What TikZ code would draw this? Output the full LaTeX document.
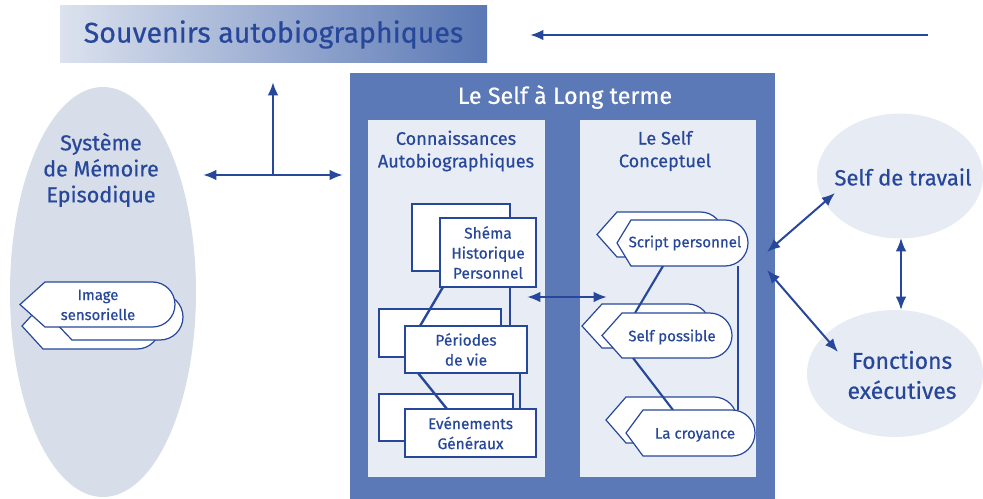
\documentclass[tikz,border=0pt]{standalone}
\usepackage{fontspec}
\setmainfont{Fira Sans}[FakeBold=0.5]
\usetikzlibrary{arrows.meta,shapes.geometric,calc}
\definecolor{tblue}{HTML}{27479A}
\definecolor{bigblue}{HTML}{5B79B6}
\definecolor{panel}{HTML}{E8ECF5}
\definecolor{ellL}{HTML}{D7DEEA}
\definecolor{ellR}{HTML}{E7EBF4}
\definecolor{gradL}{HTML}{DCE2EE}
\definecolor{gradR}{HTML}{5A78B5}
\tikzset{
  box/.style={draw=tblue, fill=white, line width=0.9pt, inner sep=0pt, outer sep=0pt, align=center, text=tblue, font=\fontsize{11.6}{15}\selectfont},
  tagline/.style={draw=tblue, fill=white, line width=0.9pt},
  link/.style={draw=tblue, line width=1.8pt},
  arr/.style={draw=tblue, line width=1.8pt, {Latex[length=10pt,width=8pt]}-{Latex[length=10pt,width=8pt]}},
  arrone/.style={draw=tblue, line width=1.8pt, -{Latex[length=10pt,width=8pt]}},
  lbl/.style={text=tblue, align=center, inner sep=0pt}
}
% #1 name, #2 x1, #3 y1, #4 x2, #5 y2, #6 text
\newcommand{\pxbox}[6]{\node[box, anchor=north west, minimum width={(#4-#2)*0.75pt}, minimum height={(#5-#3)*0.75pt}] (#1) at (#2,#3) {#6};}
% tag shape: #1 left x, #2 center y, #3 half height, #4 right x, #5 diagonal dx
\newcommand{\tagshape}[5]{\filldraw[tagline] (#1,#2) -- ({#1+#5},{#2-#3}) -- ({#4-#3},{#2-#3}) arc[start angle=90,end angle=-90,radius={#3*0.75pt}] -- ({#1+#5},{#2+#3}) -- cycle;}
\begin{document}
\begin{tikzpicture}[x=0.75pt,y=-0.75pt]
\useasboundingbox (0,0) rectangle (983,499);

% title
\node[left color=gradL, right color=gradR, minimum width={427*0.75pt}, minimum height={57*0.75pt}, inner sep=0pt, text=tblue, font=\fontsize{21.4}{26}\selectfont] (souv) at (273.5,34.5) {Souvenirs autobiographiques};
\coordinate (topR) at (928,35);
\coordinate (topL) at (530,35);
\draw[arrone] (topR) -- (topL);

% left ellipse
\node[ellipse, fill=ellL, minimum width={186*0.75pt}, minimum height={410*0.75pt}, inner sep=0pt] (episo) at (103,292) {};
\node[lbl, font=\fontsize{16.2}{19.5}\selectfont] (episotxt) at (101,170) {Système\\de Mémoire\\Episodique};

% image sensorielle
\tagshape{22}{326}{23}{160}{21}
\tagshape{50}{317}{23}{183}{22}
\tagshape{20}{304.5}{22.5}{175}{25}
\node[lbl, font=\fontsize{11.2}{15}\selectfont] (imgtxt) at (98,305) {Image\\sensorielle};

% big box
\fill[bigblue] (350,73) rectangle (775,499);
\node[text=white, font=\fontsize{17.5}{18}\selectfont] (ltitle) at (565,97) {Le Self à Long terme};
\fill[panel] (368,120) rectangle (545,477);
\fill[panel] (580,120) rectangle (756,477);
\node[lbl, font=\fontsize{13.6}{17}\selectfont] (conn) at (456,151) {Connaissances\\Autobiographiques};
\node[lbl, font=\fontsize{13.6}{17}\selectfont] (concept) at (665,151) {Le Self\\Conceptuel};

% cross arrows
\coordinate (crossL) at (203,175);
\coordinate (crossR) at (343,175);
\coordinate (crossM) at (273,175);
\coordinate (crossT) at (273,82);
\draw[arr] (crossL) -- (crossR);
\draw[arrone] (crossM) -- (crossT);

% connaissances boxes
\pxbox{shemaB}{412}{204}{510}{271}{}
\pxbox{perB}{379}{309}{501}{357}{}
\pxbox{evB}{379}{394}{513}{441}{}
\coordinate (shemaL) at (443,287);
\coordinate (shemaR) at (510,287);
\coordinate (perTL) at (420,326);
\coordinate (perTR) at (510,326);
\coordinate (perBL) at (418,373);
\coordinate (perBR) at (520,373);
\coordinate (evTL) at (447,409);
\coordinate (evTR) at (520,409);
\draw[link] (shemaL) -- (perTL);
\draw[link] (shemaR) -- (perTR);
\draw[link] (perBL) -- (evTL);
\draw[link] (perBR) -- (evTR);
\pxbox{shema}{440}{218}{536}{287}{Shéma\\Historique\\Personnel}
\pxbox{per}{405}{326}{527}{373}{Périodes\\de vie}
\pxbox{ev}{405}{409}{536}{457}{Evénements\\Généraux}

% conceptuel tags
\tagshape{597}{234.5}{22.5}{723}{20}
\tagshape{582}{326}{22}{710}{20}
\tagshape{606}{420}{23}{737}{20}
\coordinate (scB) at (663,266);
\coordinate (spT) at (635,313);
\coordinate (spB) at (633,358);
\coordinate (crT) at (673,410);
\coordinate (scR) at (738,266);
\coordinate (crR) at (738,410);
\draw[link, line width=1.6pt] (scB) -- (spT);
\draw[link, line width=1.6pt] (spB) -- (crT);
\draw[link, line width=1.6pt] (scR) -- (crR);
\tagshape{617}{243}{23}{748}{14}
\tagshape{602}{335.5}{22.5}{732}{20}
\tagshape{626}{433}{23}{755}{17}
\node[lbl, font=\fontsize{11.3}{15}\selectfont] (script) at (685,243) {Script personnel};
\node[lbl, font=\fontsize{11.3}{15}\selectfont] (selfp) at (672,337) {Self possible};
\node[lbl, font=\fontsize{11.3}{15}\selectfont] (croy) at (695,435) {La croyance};

% middle arrow
\coordinate (midL) at (527,297);
\coordinate (midR) at (607,297);
\draw[arr] (midL) -- (midR);

% right ellipses
\node[ellipse, fill=ellR, minimum width={166*0.75pt}, minimum height={125*0.75pt}, inner sep=0pt] (travail) at (900,176) {};
\node[lbl, font=\fontsize{16.5}{20}\selectfont] (travtxt) at (903,177) {Self de travail};
\node[ellipse, fill=ellR, minimum width={176*0.75pt}, minimum height={127*0.75pt}, inner sep=0pt] (fonct) at (895,373.5) {};
\node[lbl, font=\fontsize{17.2}{22.5}\selectfont] (fontxt) at (902,375) {Fonctions\\exécutives};

\coordinate (rA1) at (835,193);
\coordinate (rA2) at (767,252);
\coordinate (rB1) at (767,270);
\coordinate (rB2) at (838,352);
\coordinate (rC1) at (901,238);
\coordinate (rC2) at (901,310);
\draw[arr, line width=1.5pt] (rA1) -- (rA2);
\draw[arr, line width=1.5pt] (rB1) -- (rB2);
\draw[arr, line width=1.5pt] (rC1) -- (rC2);
\end{tikzpicture}
\end{document}
